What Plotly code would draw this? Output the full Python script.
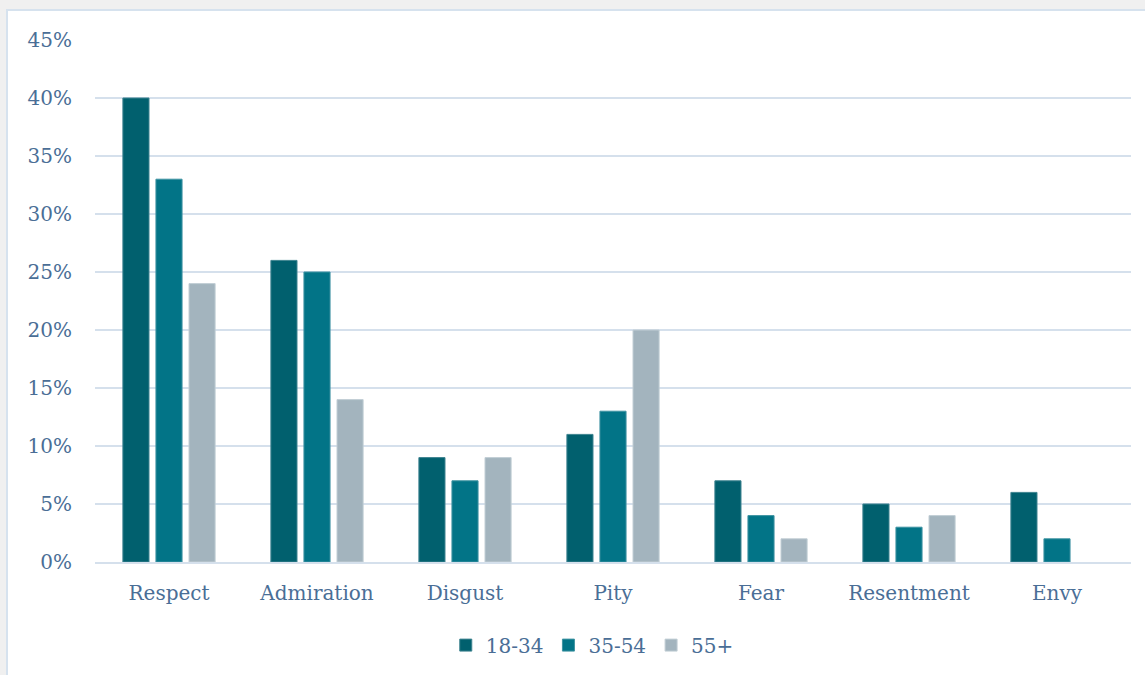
import plotly.graph_objects as go

categories = ["Respect", "Admiration", "Disgust", "Pity", "Fear", "Resentment", "Envy"]
age_18_34 = [40, 26, 9, 11, 7, 5, 6]
age_35_54 = [33, 25, 7, 13, 4, 3, 2]
age_55_plus = [24, 14, 9, 20, 2, 4, None]
series_names = ["18-34", "35-54", "55+"]
colors = ["#01606E", "#027487", "#A3B4BE"]
line_colors = ["#3E8390", "#3F93A2", "#C2CED5"]
y_ticks = [0, 5, 10, 15, 20, 25, 30, 35, 40, 45]

W, H = 1145, 675
ml, mr, mt, mb = 95, 14, 40, 112
pw, ph = W - ml - mr, H - mt - mb

fig = go.Figure()
for name, vals, c, lc in zip(series_names, [age_18_34, age_35_54, age_55_plus], colors, line_colors):
    fig.add_trace(go.Bar(
        x=categories, y=vals, name=name,
        marker=dict(color=c, line=dict(color=lc, width=1)),
    ))

text_color = "#4A6E96"
font_family = "DejaVu Serif, Liberation Serif, serif"

# white card with light blue border, on gray page
fig.add_shape(
    type="rect", xref="paper", yref="paper", layer="below",
    x0=(7 - ml) / pw, x1=(W + 20 - ml) / pw,
    y0=(H - mb - (H + 20)) / ph, y1=(H - mb - 10) / ph,
    fillcolor="white", line=dict(color="#D6E2EE", width=2),
)

fig.update_layout(
    width=W, height=H,
    margin=dict(l=ml, r=mr, t=mt, b=mb),
    paper_bgcolor="#F0F0F0",
    plot_bgcolor="rgba(0,0,0,0)",
    barmode="group",
    bargap=0.33,
    bargroupgap=0.21,
    font=dict(family=font_family, size=20, color=text_color),
    showlegend=True,
    legend=dict(
        orientation="h", x=0.48, xanchor="center", y=-0.157, yanchor="middle",
        font=dict(size=20, color=text_color), itemwidth=30, traceorder="normal",
        bgcolor="rgba(0,0,0,0)",
    ),
    xaxis=dict(
        showgrid=False, showline=True, linecolor="#D5E0EC", linewidth=2,
        ticks="", ticklabelstandoff=12, tickfont=dict(size=20, color=text_color),
    ),
    yaxis=dict(
        range=[0, 45], tickvals=y_ticks,
        ticktext=[f"{v}%" for v in y_ticks],
        showgrid=True, gridcolor="#D5E0EC", gridwidth=2,
        zeroline=False, showline=False, ticks="",
        ticklabelstandoff=22,
        tickfont=dict(size=20, color=text_color),
    ),
)

fig.write_html(
    "out.html",
    config={"displayModeBar": False},
    post_script="document.body.style.margin='0';document.body.style.overflow='hidden';",
)
